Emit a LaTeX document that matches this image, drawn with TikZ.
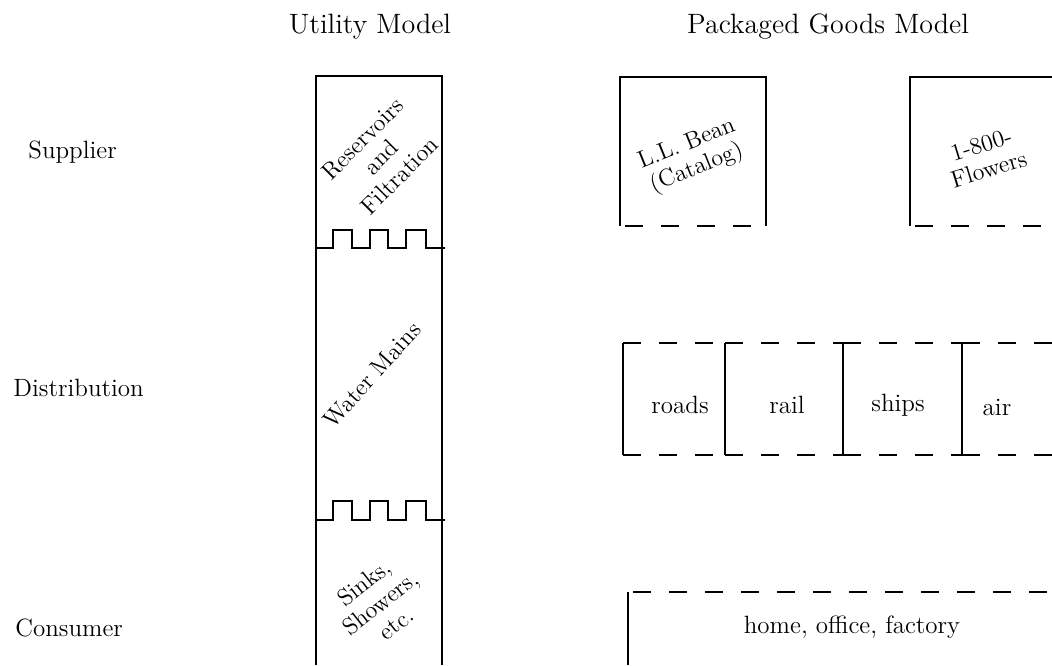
\documentclass[tikz,border=0pt]{standalone}
\usepackage{tikz}
\tikzset{
  headlabel/.style={font=\fontsize{14}{17}\selectfont, inner sep=0pt},
  rowlabel/.style={anchor=west, font=\fontsize{12.5}{15}\selectfont, inner sep=0pt},
  celllabel/.style={font=\fontsize{12.5}{15}\selectfont, inner sep=0pt},
  tiltlabel/.style={font=\fontsize{12}{13}\selectfont, align=center, inner sep=0pt},
  wall/.style={line width=0.9pt, color=black},
  openedge/.style={line width=0.9pt, color=black, dash pattern=on 9pt off 9pt}
}

\begin{document}
\begin{tikzpicture}[x=0.5pt, y=-0.5pt]
  \useasboundingbox (0,0) rectangle (1052,665);

  % headings
  \node [headlabel] (utilhead) at (370,27) {Utility Model};
  \node [headlabel] (packhead) at (828,27) {Packaged Goods Model};

  % rows
  \node [rowlabel] (supplier) at (28,152) {Supplier};
  \node [rowlabel] (distrib) at (13,388) {Distribution};
  \node [rowlabel] (consumer) at (15,628) {Consumer};

  % utility column
  \draw [wall] (316,665) -- (316,76) -- (442,76) -- (442,665);
  \foreach \base/\top in {248/230, 520/501}
    \draw [wall] (316,\base) -- (333,\base) -- (333,\top) -- (352,\top) -- (352,\base)
      -- (370,\base) -- (370,\top) -- (388,\top) -- (388,\base)
      -- (406,\base) -- (406,\top) -- (426,\top) -- (426,\base) -- (445,\base);
  \node [tiltlabel, rotate=45] (reservoirs) at (381,157) {Reservoirs\\and\\Filtration};
  \node [tiltlabel, rotate=48] (mains) at (372,375) {Water Mains};
  \node [tiltlabel, rotate=38] (sinks) at (380,603) {Sinks,\\Showers,\\etc.};

  % supplier boxes
  \draw [wall] (620,226) -- (620,77) -- (766,77) -- (766,226);
  \draw [openedge, dash phase=15.5pt] (620,226) -- (766,226);
  \node [tiltlabel, rotate=22] (llbean) at (692,157) {L.L. Bean\\(Catalog)};
  \draw [wall] (910,226) -- (910,77) -- (1052,77);
  \draw [openedge, dash phase=15.5pt] (910,226) -- (1052,226);
  \node [tiltlabel, rotate=17] (flowers) at (985,157) {1-800-\\Flowers};

  % distribution channels
  \foreach \x in {623, 725, 843, 962}
    \draw [wall] (\x,343) -- (\x,455);
  \foreach \from/\to in {623/725, 725/843, 843/962, 962/1052} {
    \draw [openedge] (\from,343) -- (\to,343);
    \draw [openedge] (\from,455) -- (\to,455);
  }
  \node [celllabel] (roads) at (680,405) {roads};
  \node [celllabel] (rail) at (787,405) {rail};
  \node [celllabel] (ships) at (898,405) {ships};
  \node [celllabel] (air) at (997,407) {air};

  % consumer premises
  \draw [wall] (628,665) -- (628,592);
  \draw [openedge, dash phase=15.5pt] (628,592) -- (1052,592);
  \node [celllabel] (premises) at (852,627) {home, office, factory};
\end{tikzpicture}
\end{document}
